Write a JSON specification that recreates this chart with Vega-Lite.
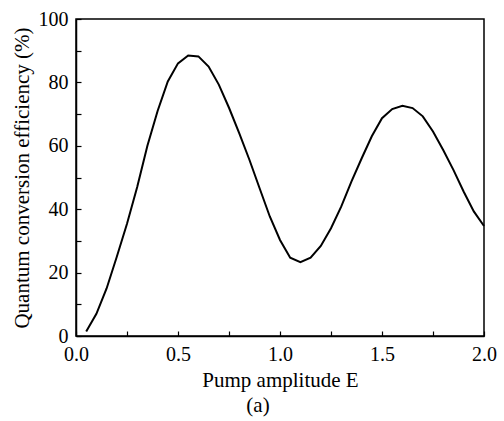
{
  "$schema": "https://vega.github.io/schema/vega-lite/v6.json",
  "width": 408,
  "height": 317,
  "autosize": {"type": "none"},
  "padding": {"left": 76, "top": 19, "right": 20, "bottom": 85},
  "background": "white",
  "title": {"text": "(a)", "orient": "bottom", "font": "Liberation Serif", "fontSize": 21, "fontWeight": "normal", "color": "black", "offset": 5, "anchor": "middle", "dx": -22},
  "config": {
    "view": {"stroke": "black", "strokeWidth": 1.5},
    "style": {"guide-label": {"font": "Liberation Serif"}, "guide-title": {"font": "Liberation Serif"}},
    "axis": {"domainColor": "black", "domainWidth": 1.5, "tickColor": "black", "tickWidth": 1.2, "grid": false, "labelFont": "Liberation Serif", "titleFont": "Liberation Serif"}
  },
  "data": {"values": [
    {"E": 0.05, "eff": 1.4}, {"E": 0.10, "eff": 7}, {"E": 0.15, "eff": 15}, {"E": 0.20, "eff": 25},
    {"E": 0.25, "eff": 35.4}, {"E": 0.30, "eff": 47}, {"E": 0.35, "eff": 60}, {"E": 0.40, "eff": 71},
    {"E": 0.45, "eff": 80.3}, {"E": 0.50, "eff": 86}, {"E": 0.55, "eff": 88.5}, {"E": 0.60, "eff": 88.2},
    {"E": 0.65, "eff": 85}, {"E": 0.70, "eff": 79.3}, {"E": 0.75, "eff": 72}, {"E": 0.80, "eff": 64},
    {"E": 0.85, "eff": 55.6}, {"E": 0.90, "eff": 46.6}, {"E": 0.95, "eff": 37.7}, {"E": 1.00, "eff": 30.3},
    {"E": 1.05, "eff": 24.7}, {"E": 1.10, "eff": 23.3}, {"E": 1.15, "eff": 24.7}, {"E": 1.20, "eff": 28.4},
    {"E": 1.25, "eff": 34}, {"E": 1.30, "eff": 40.8}, {"E": 1.35, "eff": 48.7}, {"E": 1.40, "eff": 56},
    {"E": 1.45, "eff": 63}, {"E": 1.50, "eff": 68.7}, {"E": 1.55, "eff": 71.6}, {"E": 1.60, "eff": 72.6},
    {"E": 1.65, "eff": 71.9}, {"E": 1.70, "eff": 69.3}, {"E": 1.75, "eff": 64.5}, {"E": 1.80, "eff": 58.7},
    {"E": 1.85, "eff": 52.4}, {"E": 1.90, "eff": 45.6}, {"E": 1.95, "eff": 39.3}, {"E": 2.00, "eff": 34.7}
  ]},
  "mark": {"type": "line", "color": "black", "strokeWidth": 2},
  "encoding": {
    "x": {"field": "E", "type": "quantitative", "scale": {"domain": [0, 2], "nice": false},
      "axis": {"title": "Pump amplitude E", "values": [0, 0.25, 0.5, 0.75, 1, 1.25, 1.5, 1.75, 2],
        "labelExpr": "(datum.value * 2) % 1 == 0 ? format(datum.value, '.1f') : ''",
        "labelFont": "Liberation Serif", "labelFontSize": 20, "labelColor": "black",
        "titleFont": "Liberation Serif", "titleFontSize": 21, "titleFontWeight": "normal", "titleColor": "black",
        "tickSize": -5, "labelPadding": 13, "titlePadding": 5, "labelFlush": false}},
    "y": {"field": "eff", "type": "quantitative", "scale": {"domain": [0, 100], "nice": false},
      "axis": {"title": "Quantum conversion efficiency (%)", "values": [0, 10, 20, 30, 40, 50, 60, 70, 80, 90, 100],
        "labelExpr": "datum.value % 20 == 0 ? format(datum.value, 'd') : ''",
        "labelFont": "Liberation Serif", "labelFontSize": 20, "labelColor": "black",
        "titleFont": "Liberation Serif", "titleFontSize": 21, "titleFontWeight": "normal", "titleColor": "black",
        "tickSize": -5, "labelPadding": 13, "titlePadding": 6, "labelFlush": false}}
  }
}
